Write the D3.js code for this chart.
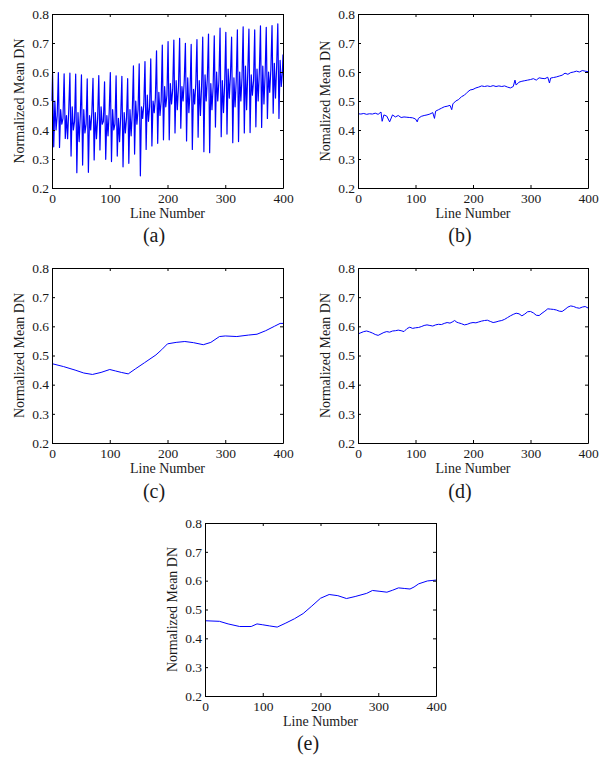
<!DOCTYPE html>
<html><head><meta charset="utf-8">
<script src="https://cdn.jsdelivr.net/npm/d3@7/dist/d3.min.js"></script>
<style>
body{margin:0;background:#fff}
svg text{font-family:"Liberation Serif","Times New Roman",serif;fill:#1a1a1a}
</style>
</head><body>
<svg id="fig" width="603" height="758"></svg>
<script>
// ---- tick labels ----
const xTicks = [0, 100, 200, 300, 400];
const yTicks = [0.2, 0.3, 0.4, 0.5, 0.6, 0.7, 0.8];
const xDomain = [0, 400];
const yDomain = [0.2, 0.8];

// ---- panel (a): per ~10-line cycle: peak, drop low, then three mid values ----
const aPeak = [0.595,0.598,0.594,0.596,0.593,0.590,0.576,0.578,0.588,0.566,0.598,0.587,0.585,0.577,0.621,0.628,0.636,0.645,0.673,0.693,0.705,0.710,0.716,0.699,0.695,0.712,0.720,0.731,0.725,0.751,0.737,0.720,0.745,0.756,0.748,0.745,0.759,0.754,0.760,0.766];
const aLow  = [0.342,0.340,0.371,0.310,0.253,0.279,0.254,0.297,0.331,0.299,0.291,0.310,0.273,0.285,0.317,0.242,0.333,0.345,0.354,0.366,0.366,0.390,0.406,0.362,0.333,0.375,0.325,0.322,0.410,0.377,0.386,0.356,0.360,0.390,0.391,0.411,0.409,0.440,0.458,0.440];
const aMid1 = [0.50,0.47,0.45,0.48,0.46,0.47,0.45,0.46,0.48,0.45,0.47,0.44,0.46,0.47,0.50,0.48,0.52,0.50,0.53,0.55,0.56,0.57,0.55,0.58,0.54,0.57,0.59,0.56,0.60,0.57,0.61,0.58,0.60,0.62,0.59,0.61,0.62,0.60,0.63,0.64];
const aMid2 = [0.40,0.42,0.37,0.40,0.36,0.39,0.40,0.37,0.42,0.38,0.40,0.36,0.39,0.38,0.42,0.44,0.43,0.46,0.45,0.48,0.49,0.47,0.50,0.46,0.49,0.45,0.50,0.47,0.50,0.46,0.51,0.48,0.50,0.47,0.52,0.50,0.49,0.53,0.51,0.55];
const aMid3 = [0.45,0.44,0.47,0.43,0.45,0.42,0.46,0.44,0.43,0.46,0.42,0.45,0.44,0.46,0.47,0.49,0.48,0.51,0.50,0.52,0.54,0.55,0.57,0.53,0.56,0.55,0.58,0.55,0.57,0.56,0.59,0.57,0.58,0.60,0.57,0.60,0.59,0.61,0.62,0.60];
const aStart = 0.50, aEnd = 0.66;

// ---- panel (b) ----
const bLine  = [0,5,10,15,20,25,30,35,40,42,45,50,55,60,65,70,75,80,85,90,95,100,103,105,110,115,120,125,130,133,135,140,145,150,155,160,163,165,170,175,180,185,190,195,200,205,210,215,220,225,230,235,240,245,250,255,260,265,270,273,275,280,285,290,295,300,305,310,315,320,325,330,333,335,340,345,350,355,360,365,370,375,380,385,390,395,400];
const bValue = [0.456,0.455,0.457,0.454,0.456,0.455,0.458,0.454,0.462,0.430,0.452,0.448,0.428,0.452,0.445,0.450,0.443,0.445,0.444,0.443,0.442,0.438,0.428,0.440,0.447,0.450,0.452,0.455,0.460,0.440,0.465,0.470,0.475,0.480,0.482,0.485,0.470,0.490,0.500,0.505,0.515,0.520,0.530,0.538,0.540,0.545,0.548,0.552,0.550,0.552,0.550,0.553,0.550,0.552,0.550,0.552,0.548,0.545,0.550,0.572,0.555,0.565,0.568,0.570,0.572,0.574,0.577,0.572,0.580,0.578,0.577,0.582,0.562,0.579,0.581,0.583,0.586,0.589,0.596,0.592,0.598,0.600,0.603,0.600,0.605,0.603,0.601];

// ---- panel (c) ----
const cLine  = [0,20,40,55,70,85,100,110,120,132,145,160,180,190,200,215,230,245,262,275,290,300,320,340,355,370,385,395,400];
const cValue = [0.472,0.462,0.450,0.440,0.435,0.442,0.452,0.447,0.442,0.437,0.455,0.475,0.502,0.520,0.540,0.545,0.548,0.544,0.537,0.545,0.565,0.567,0.565,0.570,0.573,0.585,0.600,0.610,0.610];

// ---- panel (d) ----
const dLine  = [0,5,10,15,20,25,30,35,40,45,50,55,60,65,70,75,80,85,90,95,100,105,110,115,120,125,130,135,140,145,150,155,160,165,168,172,175,180,185,190,195,200,205,210,215,220,225,230,235,240,245,250,255,260,265,270,275,280,285,290,295,300,305,310,315,320,325,330,335,340,345,350,355,360,365,370,375,380,385,390,395,400];
const dValue = [0.574,0.578,0.582,0.584,0.581,0.577,0.572,0.569,0.574,0.579,0.582,0.580,0.584,0.585,0.587,0.585,0.582,0.592,0.597,0.593,0.595,0.596,0.599,0.603,0.605,0.603,0.601,0.605,0.607,0.606,0.610,0.613,0.611,0.616,0.620,0.614,0.612,0.609,0.605,0.607,0.611,0.613,0.612,0.615,0.618,0.620,0.621,0.617,0.613,0.615,0.618,0.620,0.624,0.630,0.636,0.641,0.645,0.643,0.636,0.642,0.650,0.651,0.646,0.638,0.637,0.645,0.652,0.660,0.659,0.658,0.656,0.652,0.651,0.658,0.666,0.670,0.668,0.664,0.662,0.666,0.668,0.663];

// ---- panel (e) ----
const eLine  = [0,25,40,60,80,90,100,112,125,140,155,170,185,200,215,230,245,260,280,290,303,315,325,335,345,355,362,370,385,400];
const eValue = [0.461,0.459,0.450,0.441,0.441,0.450,0.447,0.443,0.439,0.453,0.468,0.486,0.512,0.539,0.552,0.548,0.538,0.545,0.556,0.566,0.563,0.560,0.567,0.575,0.573,0.571,0.578,0.589,0.599,0.602];

// ---- build (a) table from cycles ----
const aData = [[0, aStart]];
aPeak.forEach((p, k) => {
  aData.push([10*k+1, p], [10*k+3, aLow[k]], [10*k+5, aMid1[k]], [10*k+7, aMid2[k]], [10*k+9, aMid3[k]]);
});
aData.push([400, aEnd]);
const zip = (xs, ys) => xs.map((v, i) => [v, ys[i]]);

const svg = d3.select("#fig");

const panels = [
  {data: aData,              left: 52,  top: 14,  w: 231, h: 174, ylab: "Normalized Mean DN", cap: "(a)", cx: 154, cy: 242, sw: 1.2},
  {data: zip(bLine, bValue), left: 358, top: 14,  w: 230, h: 174, ylab: "Nomalized Mean DN",  cap: "(b)", cx: 460, cy: 242, sw: 1},
  {data: zip(cLine, cValue), left: 52,  top: 268, w: 231, h: 175, ylab: "Normalized Mean DN", cap: "(c)", cx: 154, cy: 498, sw: 1},
  {data: zip(dLine, dValue), left: 358, top: 268, w: 230, h: 175, ylab: "Normalized Mean DN", cap: "(d)", cx: 460, cy: 498, sw: 1},
  {data: zip(eLine, eValue), left: 205, top: 523, w: 231, h: 173, ylab: "Normalized Mean DN", cap: "(e)", cx: 308, cy: 750, sw: 1}
];

function styleAxis(sel) {
  sel.attr("font-family", null).attr("font-size", null);
  sel.selectAll("path.domain").attr("stroke", "#000").attr("stroke-width", 1);
  sel.selectAll(".tick line").attr("stroke", "#000").attr("stroke-width", 1);
  sel.selectAll(".tick text").style("font-size", "13.5px").attr("fill", "#1a1a1a");
}

panels.forEach(p => {
  const g = svg.append("g").attr("transform", `translate(${p.left},${p.top})`);
  const x = d3.scaleLinear().domain(xDomain).range([0, p.w]);
  const y = d3.scaleLinear().domain(yDomain).range([p.h, 0]);

  g.append("path").datum(p.data)
    .attr("fill", "none").attr("stroke", "#0000ff").attr("stroke-width", p.sw)
    .attr("stroke-linejoin", "round")
    .attr("d", d3.line().x(d => x(d[0])).y(d => y(d[1])));

  g.append("g").attr("transform", `translate(0,${p.h})`)
    .call(d3.axisBottom(x).tickValues(xTicks).tickSizeInner(-3).tickSizeOuter(0).tickPadding(5).tickFormat(d3.format("d")))
    .call(styleAxis);
  g.append("g")
    .call(d3.axisTop(x).tickValues(xTicks).tickSizeInner(-3).tickSizeOuter(0).tickFormat(""))
    .call(styleAxis);
  g.append("g")
    .call(d3.axisLeft(y).tickValues(yTicks).tickSizeInner(-3).tickSizeOuter(0).tickPadding(3).tickFormat(d3.format(".1f")))
    .call(styleAxis);
  g.append("g").attr("transform", `translate(${p.w},0)`)
    .call(d3.axisRight(y).tickValues(yTicks).tickSizeInner(-3).tickSizeOuter(0).tickFormat(""))
    .call(styleAxis);

  g.append("text").attr("x", p.w / 2).attr("y", p.h + 30)
    .attr("text-anchor", "middle").style("font-size", "14px").text("Line Number");
  g.append("text").attr("transform", `translate(-28,${p.h / 2}) rotate(-90)`)
    .attr("text-anchor", "middle").style("font-size", "14px").text(p.ylab);
  svg.append("text").attr("x", p.cx).attr("y", p.cy)
    .attr("text-anchor", "middle").style("font-size", "20px").text(p.cap);
});
</script>
</body></html>
